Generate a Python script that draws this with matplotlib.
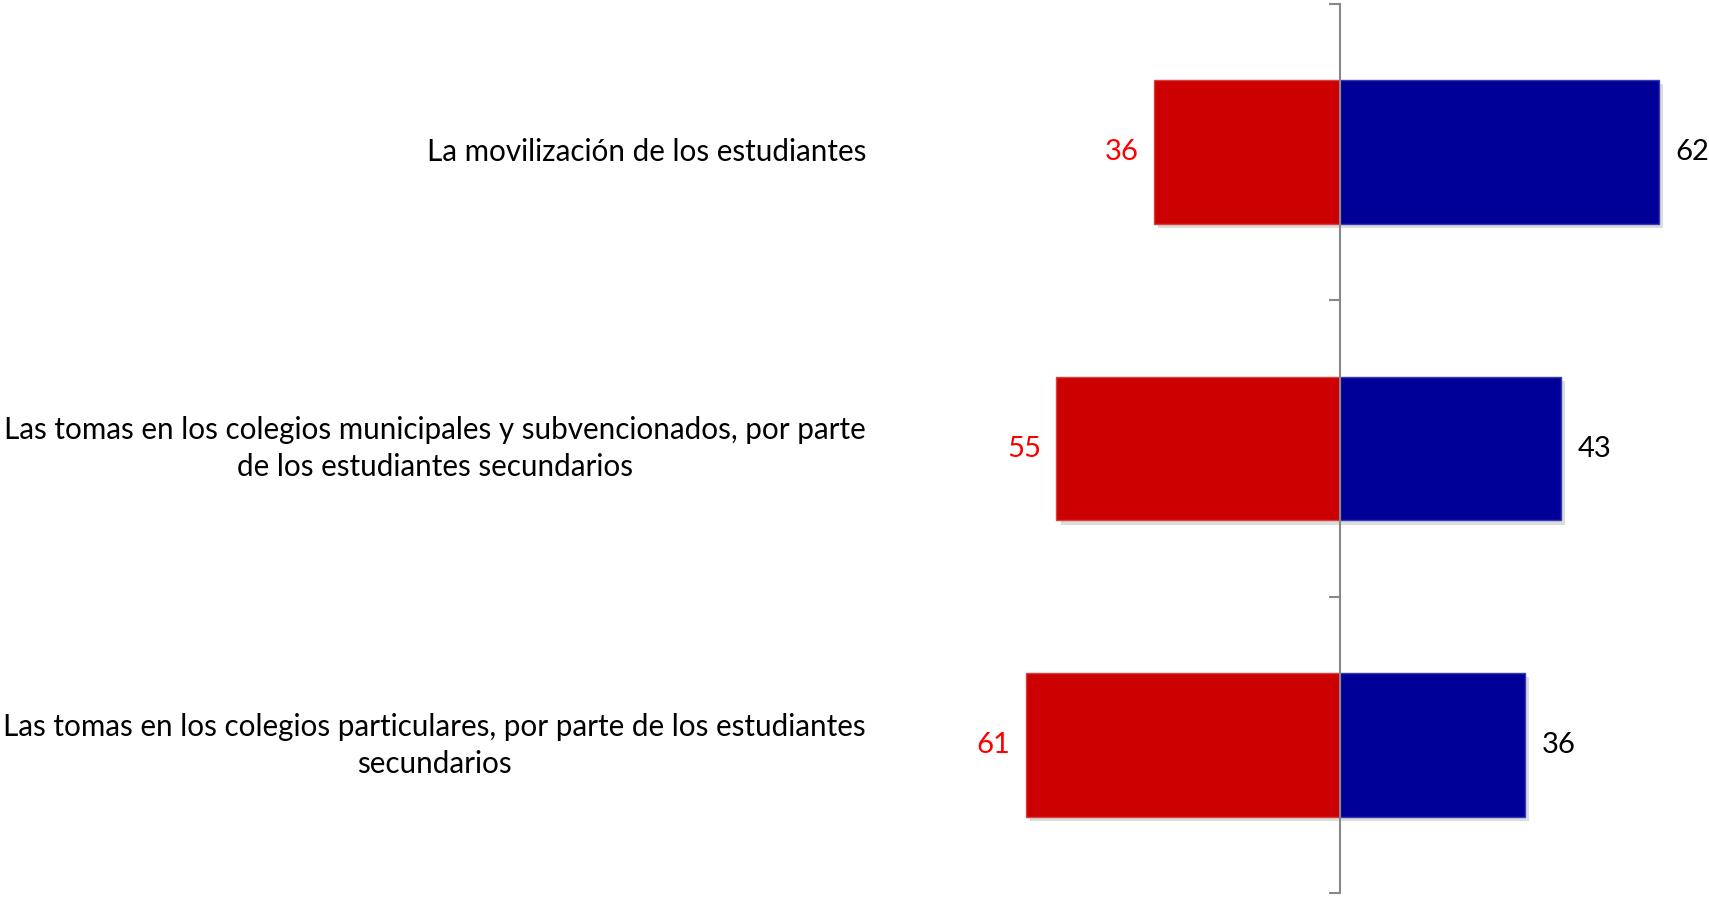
import matplotlib
matplotlib.use("Agg")
import matplotlib.pyplot as plt
import matplotlib.patheffects as pe
import matplotlib.transforms as mtransforms
import numpy as np

categories = [
    "La movilización de los estudiantes",
    "Las tomas en los colegios municipales y subvencionados, por parte\nde los estudiantes secundarios",
    "Las tomas en los colegios particulares, por parte de los estudiantes\nsecundarios",
]
desaprueba = [36, 55, 61]
aprueba = [62, 43, 36]

plt.rcParams['font.family'] = ['Lato', 'DejaVu Sans']

fig = plt.figure(figsize=(17.09, 8.97), dpi=100)
ax = fig.add_axes([0.573, 0.004, 0.4217, 0.992])

y = np.arange(len(categories))
shadow = [pe.SimplePatchShadow(offset=(3, -3), shadow_rgbFace=(0.55, 0.55, 0.55), alpha=0.3), pe.Normal()]
rb = ax.barh(y, [-v for v in desaprueba], height=0.485, color="#CC0000", edgecolor="#D84040", linewidth=1)
bb = ax.barh(y, aprueba, height=0.485, color="#000099", edgecolor="#3A3AB0", linewidth=1)
for p in list(rb) + list(bb):
    p.set_path_effects(shadow)

for yi, v in zip(y, desaprueba):
    ax.annotate(str(v), (-v, yi), xytext=(-11, 0), textcoords="offset points",
                ha="right", va="center", color="#FF0000", fontsize=21)
for yi, v in zip(y, aprueba):
    ax.annotate(str(v), (v, yi), xytext=(12, 0), textcoords="offset points",
                ha="left", va="center", color="black", fontsize=21)

ax.set_xlim(-70, 70)
ax.set_ylim(len(categories) - 0.5, -0.5)
ax.set_yticks(np.arange(len(categories) + 1) - 0.5)
ax.set_yticklabels([])
ax.tick_params(axis="y", length=8, width=1.5, color="#888888", direction="out")
ax.set_xticks([])
for s in ["top", "right", "bottom"]:
    ax.spines[s].set_visible(False)
ax.spines["left"].set_position(("data", 0))
ax.spines["left"].set_color("#888888")
ax.spines["left"].set_linewidth(1.5)
ax.spines["left"].set_zorder(5)

trans = mtransforms.blended_transform_factory(fig.transFigure, ax.transData)
for yi, c in zip(y, categories):
    fig.text(866 / 1709, yi, c, ha="right", va="center", multialignment="center",
             fontsize=21.3, linespacing=1.4, transform=trans)

fig.savefig("out.png", dpi=100)
